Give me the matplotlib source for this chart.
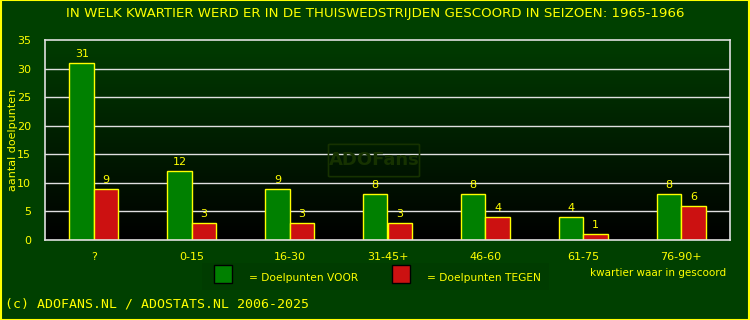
import matplotlib
matplotlib.use("Agg")
import matplotlib.pyplot as plt
import numpy as np
from matplotlib.patches import Rectangle, FancyBboxPatch
from matplotlib.colors import LinearSegmentedColormap

categories = ["?", "0-15", "16-30", "31-45+", "46-60", "61-75", "76-90+"]
voor = [31, 12, 9, 8, 8, 4, 8]
tegen = [9, 3, 3, 3, 4, 1, 6]
yticks = [0, 5, 10, 15, 20, 25, 30, 35]

YEL = "#ffff00"
BG = "#004000"

fig = plt.figure(figsize=(7.5, 3.2), dpi=100)
fig.patch.set_facecolor(BG)
fig.patches.append(Rectangle((0.0007, 0.0015), 0.9986, 0.997, transform=fig.transFigure,
                             fill=False, edgecolor=YEL, linewidth=1.5, zorder=10))

ax = fig.add_axes([45/750, 80/320, 685/750, 200/320])
ax.set_xlim(-0.5, len(categories) - 0.5)
ax.set_ylim(0, 35)

# gradient background
grad = np.linspace(0, 1, 256).reshape(-1, 1)
cmap = LinearSegmentedColormap.from_list("g", ["#000000", "#003c00"])
ax.imshow(grad, extent=(-0.5, len(categories) - 0.5, 0, 35), origin="lower",
          aspect="auto", cmap=cmap, zorder=0)

for y in yticks[1:-1]:
    ax.axhline(y, color="#e0e0e0", linewidth=1.0, zorder=1)

x = np.arange(len(categories))
w = 0.25
ax.bar(x - w/2, voor, w, color="#008000", edgecolor=YEL, linewidth=1, zorder=2)
ax.bar(x + w/2, tegen, w, color="#cc1111", edgecolor=YEL, linewidth=1, zorder=2)
for xi, v in zip(x - w/2, voor):
    ax.text(xi, v + 0.7, str(v), color=YEL, ha="center", va="bottom", fontsize=8, zorder=3)
for xi, v in zip(x + w/2, tegen):
    ax.text(xi, v + 0.7, str(v), color=YEL, ha="center", va="bottom", fontsize=8, zorder=3)

for s in ax.spines.values():
    s.set_color("#e0e0e0")
    s.set_linewidth(1.2)
ax.set_xticks(x)
ax.set_xticklabels(categories)
ax.set_yticks(yticks)
ax.tick_params(colors=YEL, labelsize=8, length=0)
ax.tick_params(axis="x", pad=9)
ax.tick_params(axis="y", pad=10)

# watermark
wm = FancyBboxPatch((330/750, 144/320), 88/750, 31/320, boxstyle="round,pad=0.002",
                    transform=fig.transFigure, fill=False, edgecolor="#163200", linewidth=1.2, zorder=5)
fig.patches.append(wm)
fig.text(374/750, 1 - 160/320, "ADOFans", color="#163200", fontsize=13, fontweight="bold",
         ha="center", va="center", zorder=5)

fig.text(0.5, 1 - 13/320, "IN WELK KWARTIER WERD ER IN DE THUISWEDSTRIJDEN GESCOORD IN SEIZOEN: 1965-1966",
         color=YEL, ha="center", va="center", fontsize=9.6)
fig.text(13/750, 1 - 140/320, "aantal doelpunten", color=YEL, rotation=90,
         ha="center", va="center", fontsize=8)

# legend
fig.patches.append(Rectangle((202/750, 1 - 290/320), 347/750, 27/320, transform=fig.transFigure,
                             facecolor="#003c00", edgecolor="none", zorder=1))
fig.patches.append(Rectangle((214/750, 1 - 283/320), 18/750, 18/320, transform=fig.transFigure,
                             facecolor="#008000", edgecolor="black", linewidth=1, zorder=2))
fig.patches.append(Rectangle((392/750, 1 - 283/320), 18/750, 18/320, transform=fig.transFigure,
                             facecolor="#cc1111", edgecolor="black", linewidth=1, zorder=2))
fig.text(249/750, 1 - 278/320, "= Doelpunten VOOR", color=YEL, fontsize=7.7, ha="left", va="center")
fig.text(427/750, 1 - 278/320, "= Doelpunten TEGEN", color=YEL, fontsize=7.7, ha="left", va="center")
fig.text(658/750, 1 - 273/320, "kwartier waar in gescoord", color=YEL, fontsize=7.5, ha="center", va="center")

fig.text(5/750, 1 - 304/320, "(c) ADOFANS.NL / ADOSTATS.NL 2006-2025", color=YEL,
         fontsize=9.5, family="DejaVu Sans Mono", ha="left", va="center")

fig.savefig("out.png", dpi=100, facecolor=BG)
